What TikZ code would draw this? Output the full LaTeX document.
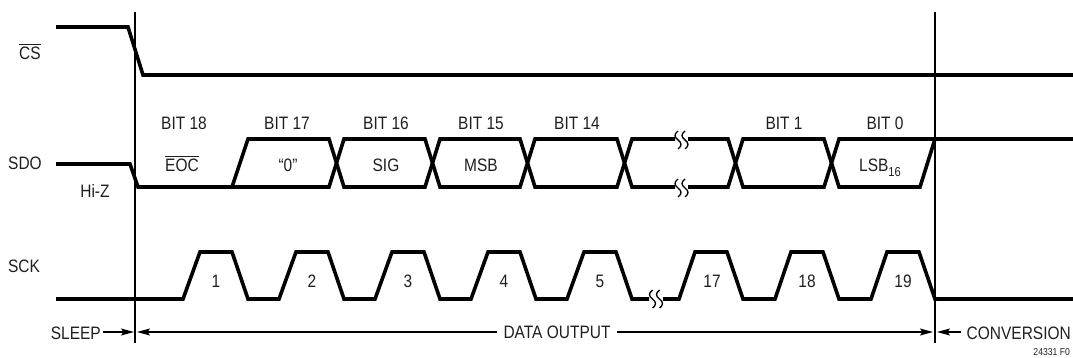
\documentclass[tikz,border=0pt]{standalone}
\usepackage{fontspec}
\setmainfont{Liberation Sans}[FakeStretch=0.86]
\usetikzlibrary{arrows.meta}
\newcommand\myovl[1]{\vbox{\hrule height 1.3pt\kern 2.2pt\hbox{#1}}}
\begin{document}
\begin{tikzpicture}[x=1pt,y=-1pt,
  sig/.style={line width=3.6pt, line join=miter, line cap=butt},
  guide/.style={line width=1.2pt},
  brkline/.style={line width=1.4pt},
  lbl/.style={inner sep=0pt, anchor=base, text=black!88, font=\fontsize{18}{20}\selectfont},
  small/.style={inner sep=0pt, anchor=base east, text=black!88, font=\fontsize{10}{12}\selectfont},
  arr/.style={line width=1.2pt, -{Stealth[length=13pt,width=7pt,inset=2.5pt]}},
  pics/brk/.style={code={
    \draw[brkline] (-3.5,-9) .. controls (-7.5,-6) and (-7.5,-3) .. (-3.5,0) .. controls (0.5,3) and (0.5,6) .. (-3.5,9);
    \draw[brkline] (3.5,-9) .. controls (-0.5,-6) and (-0.5,-3) .. (3.5,0) .. controls (7.5,3) and (7.5,6) .. (3.5,9);
  }}
]
\useasboundingbox (0,0) rectangle (1073,358);

% guide lines
\coordinate (g1top) at (135,12);
\coordinate (g1bot) at (135,343);
\coordinate (g2top) at (935,12);
\coordinate (g2bot) at (935,343);
\draw[guide] (g1top) -- (g1bot);
\draw[guide] (g2top) -- (g2bot);

% CS
\draw[sig] (56,27) -- (128,27) -- (143,75) -- (1073,75);

% SDO
\draw[sig] (56,164) -- (130,164) -- (138,187) -- (329,187) -- (344,139) -- (425,139) -- (440,187)
  -- (520,187) -- (535,139) -- (617,139) -- (632,187) -- (675,187);
\draw[sig] (688,187) -- (728,187) -- (743,139) -- (824,139) -- (839,187) -- (920,187) -- (935,139) -- (1073,139);
\draw[sig] (232,187) -- (248,139) -- (329,139) -- (344,187) -- (425,187) -- (440,139)
  -- (520,139) -- (535,187) -- (617,187) -- (632,139) -- (675,139);
\draw[sig] (688,139) -- (728,139) -- (743,187) -- (824,187) -- (839,139) -- (935,139);
\pic at (681.5,140) {brk};
\pic at (681.5,188) {brk};

% SCK
\draw[sig] (56,299) -- (183,299) -- (200,252) -- (232,252) -- (248,299) -- (279,299) -- (296,252)
  -- (328,252) -- (344,299) -- (375,299) -- (392,252) -- (424,252) -- (440,299) -- (471,299)
  -- (488,252) -- (520,252) -- (536,299) -- (567,299) -- (584,252) -- (616,252) -- (632,299) -- (649,299);
\draw[sig] (663,299) -- (679,299) -- (695,252) -- (727,252) -- (743,299) -- (775,299) -- (791,252)
  -- (823,252) -- (839,299) -- (871,299) -- (887,252) -- (919,252) -- (935,299) -- (1073,299);
\pic at (656,299) {brk};

% signal names
\node[lbl] (cs) at (30,60) {\myovl{CS}};
\node[lbl] (sdo) at (25,170) {SDO};
\node[lbl] (hiz) at (95,197) {Hi-Z};
\node[lbl] (sck) at (24,272) {SCK};

% bit labels
\node[lbl] (b18) at (184,130) {BIT 18};
\node[lbl] (b17) at (287,130) {BIT 17};
\node[lbl] (b16) at (386,130) {BIT 16};
\node[lbl] (b15) at (481,130) {BIT 15};
\node[lbl] (b14) at (577,130) {BIT 14};
\node[lbl] (b1) at (784,130) {BIT 1};
\node[lbl] (b0) at (885,130) {BIT 0};

\node[lbl] (eoc) at (182,172) {\myovl{EOC}};
\node[lbl] (zero) at (288,172) {“0”};
\node[lbl] (sg) at (386,172) {SIG};
\node[lbl] (msb) at (481,172) {MSB};
\node[lbl] (lsb) at (880,172) {LSB\raisebox{-4.5pt}{\fontsize{13}{14}\selectfont 16}};

% clock numbers
\node[lbl] (n1) at (216,287) {1};
\node[lbl] (n2) at (312,287) {2};
\node[lbl] (n3) at (408,287) {3};
\node[lbl] (n4) at (504,287) {4};
\node[lbl] (n5) at (600,287) {5};
\node[lbl] (n17) at (712,287) {17};
\node[lbl] (n18) at (807,287) {18};
\node[lbl] (n19) at (903,287) {19};

% phase annotations
\node[lbl, anchor=base east] (sleep) at (101,339) {SLEEP};
\node[lbl] (dout) at (557,338) {DATA OUTPUT};
\node[lbl, anchor=base east] (conv) at (1071,339) {CONVERSION};
\node[small] (fig) at (1070,355) {24331 F0};

\coordinate (s1) at (103,332);
\coordinate (s2) at (134,332);
\coordinate (d1) at (497,332);
\coordinate (d0) at (137,332);
\coordinate (d2) at (617,332);
\coordinate (d3) at (933,332);
\coordinate (c0) at (937,332);
\draw[arr] (s1) -- (s2);
\draw[arr] (d1) -- (d0);
\draw[arr] (d2) -- (d3);
\draw[arr] ([xshift=-6pt]conv.base west |- c0) -- (c0);
\end{tikzpicture}
\end{document}
